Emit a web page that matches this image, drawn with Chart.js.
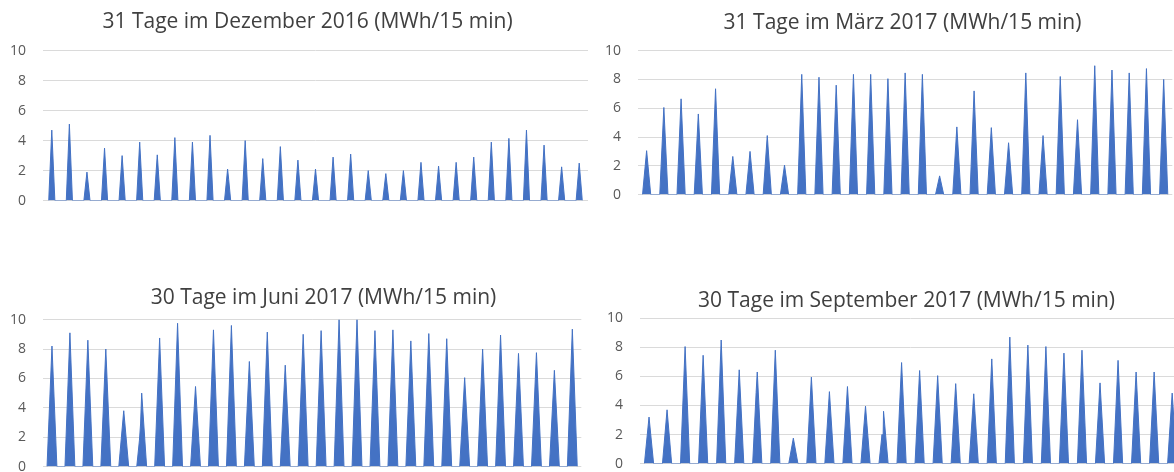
<!DOCTYPE html>
<html>
<head>
<meta charset="utf-8">
<script src="https://cdn.jsdelivr.net/npm/chart.js@4.4.1/dist/chart.umd.min.js"></script>
<style>
  html, body { margin: 0; padding: 0; background: #ffffff; overflow: hidden; width: 1174px; height: 472px; }
  canvas { position: absolute; }
</style>
</head>
<body>
<canvas id="c0"></canvas>
<canvas id="c1"></canvas>
<canvas id="c2"></canvas>
<canvas id="c3"></canvas>
<script>
// ---- Data (peak value of each day, MWh per 15 min) ----
const titles = [
  "31 Tage im Dezember 2016 (MWh/15 min)",
  "31 Tage im März 2017 (MWh/15 min)",
  "30 Tage im Juni 2017 (MWh/15 min)",
  "30 Tage im September 2017 (MWh/15 min)"
];
const peaksDec2016 = [4.7, 5.1, 1.9, 3.5, 3.0, 3.9, 3.05, 4.2, 3.9, 4.35, 2.1, 4.0, 2.8, 3.6, 2.7, 2.1,
                      2.9, 3.1, 2.0, 1.8, 2.0, 2.55, 2.3, 2.55, 2.9, 3.9, 4.15, 4.7, 3.7, 2.25, 2.5];
const peaksMar2017 = [3.05, 6.05, 6.65, 5.6, 7.35, 2.65, 3.0, 4.1, 2.05, 8.35, 8.15, 7.6, 8.35, 8.35, 8.05, 8.45,
                      8.35, 1.3, 4.7, 7.2, 4.65, 3.6, 8.45, 4.1, 8.2, 5.2, 8.95, 8.65, 8.45, 8.75, 8.0];
const peaksJun2017 = [8.2, 9.1, 8.6, 8.0, 3.8, 5.0, 8.75, 9.75, 5.45, 9.3, 9.6, 7.15, 9.15, 6.9, 9.0,
                      9.25, 10.0, 10.0, 9.25, 9.3, 8.55, 9.05, 8.7, 6.05, 8.0, 8.95, 7.7, 7.75, 6.55, 9.35];
const peaksSep2017 = [3.2, 3.7, 8.05, 7.45, 8.5, 6.45, 6.3, 7.8, 1.75, 5.95, 4.95, 5.3, 3.95, 3.6, 6.95,
                      6.4, 6.05, 5.5, 4.8, 7.2, 8.7, 8.15, 8.05, 7.6, 7.8, 5.55, 7.1, 6.3, 6.3, 4.85];
// irregular days: [day index, hour of day, value]
const extraDec2016 = [[10, 13.5, 1.4]];
const extraMar2017 = [];
const extraJun2017 = [[5, 9.0, 1.8], [5, 10.5, 2.9]];
const extraSep2017 = [[6, 10.5, 4.9], [13, 10.0, 2.0], [13, 11.2, 1.0]];
// production window of a day (hour of day): start, peak, end
const dayHoursDec = [7.8, 12, 16.2];
const dayHoursMar = [6.3, 12, 17.7];
const dayHoursJun = [5.4, 12, 18.6];
const dayHoursSep = [5.9, 12, 18.1];
const yTicks = [0, 2, 4, 6, 8, 10];

// ---- Layout (page pixels) ----
const layouts = [
  { L: 43.0,  R: 587.6,  T: 51.0,  B: 200.5, CX: 307.3, CY: 22.0 },
  { L: 638.1, R: 1172.0, T: 51.0,  B: 195.0, CX: 902.4, CY: 23.0 },
  { L: 42.7,  R: 580.6,  T: 320.0, B: 466.7, CX: 323.0, CY: 298.0 },
  { L: 640.3, R: 1181.5, T: 318.3, B: 464.0, CX: 906.8, CY: 300.7 }
];
const panels = [
  { peaks: peaksDec2016, hours: dayHoursDec, extra: extraDec2016 },
  { peaks: peaksMar2017, hours: dayHoursMar, extra: extraMar2017 },
  { peaks: peaksJun2017, hours: dayHoursJun, extra: extraJun2017 },
  { peaks: peaksSep2017, hours: dayHoursSep, extra: extraSep2017 }
];

const BLUE = '#4472C4';
const TITLE_SIZE = 21, TITLE_LH = 1.2, TITLE_PAD_TOP = 4;
const AXIS_W = 40, LABEL_GAP = 17, PAD_BOTTOM = 12;

function buildSeries(peaks, hours, extra) {
  const pts = [];
  peaks.forEach((p, i) => {
    const day = [
      { x: 24 * i + hours[0], y: 0 },
      { x: 24 * i + hours[1], y: p },
      { x: 24 * i + hours[2], y: 0 }
    ];
    extra.filter(e => e[0] === i).forEach(e => day.push({ x: 24 * i + e[1], y: e[2] }));
    day.sort((a, b) => a.x - b.x);
    pts.push(...day);
  });
  return pts;
}

function makeChart(cv, panel, k, W2, titleBottomPad) {
  return new Chart(cv, {
    type: 'line',
    data: {
      datasets: [{
        data: buildSeries(panel.peaks, panel.hours, panel.extra),
        borderColor: BLUE,
        backgroundColor: BLUE,
        borderWidth: 1,
        pointRadius: 0,
        fill: 'origin',
        tension: 0
      }]
    },
    options: {
      responsive: false,
      animation: false,
      devicePixelRatio: 1,
      layout: { padding: { top: 0, left: 0, right: 0, bottom: PAD_BOTTOM } },
      plugins: {
        legend: { display: false },
        tooltip: { enabled: false },
        title: {
          display: true,
          text: titles[k],
          color: '#404040',
          font: { family: 'Open Sans', size: TITLE_SIZE, weight: 'normal', lineHeight: TITLE_LH },
          padding: { top: TITLE_PAD_TOP, bottom: titleBottomPad }
        }
      },
      scales: {
        x: {
          type: 'linear',
          min: 0,
          max: 24 * panel.peaks.length,
          display: false
        },
        y: {
          position: 'left',
          min: yTicks[0],
          max: yTicks[yTicks.length - 1],
          afterBuildTicks: (s) => { s.ticks = yTicks.map(v => ({ value: v })); },
          afterFit: (s) => { s.width = AXIS_W; },
          border: { display: false },
          grid: { color: '#dadada', lineWidth: 1, drawTicks: false },
          ticks: {
            padding: LABEL_GAP,
            color: '#595959',
            font: { family: 'Open Sans', size: 14 }
          }
        },
        y2: {
          position: 'right',
          min: 0, max: 10,
          afterFit: (s) => { s.width = W2; },
          border: { display: false },
          grid: { display: false, drawTicks: false },
          ticks: { display: false }
        }
      }
    }
  });
}

panels.forEach((panel, k) => {
  const lay = layouts[k];
  const W2 = 2 * lay.CX - lay.L - lay.R + AXIS_W;
  const X0 = lay.L - AXIS_W;
  const Y0 = lay.CY - TITLE_SIZE * TITLE_LH / 2 - TITLE_PAD_TOP;
  const titleBottomPad = lay.T - Y0 - TITLE_PAD_TOP - TITLE_SIZE * TITLE_LH;
  const width = Math.round(lay.R + W2 - X0);
  let height = Math.round(lay.B - Y0 + PAD_BOTTOM);
  const cv = document.getElementById('c' + k);
  cv.style.left = X0 + 'px'; cv.style.top = Y0 + 'px';
  const setSize = (h) => {
    cv.width = width; cv.height = h;
    cv.style.width = width + 'px'; cv.style.height = h + 'px';
  };
  setSize(height);
  let chart = makeChart(cv, panel, k, W2, titleBottomPad);
  // correct the canvas height so that the plot bottom lands where wanted
  const diff = (lay.B - Y0) - chart.chartArea.bottom;
  if (Math.abs(diff) > 0.5) {
    chart.destroy();
    height = Math.round(height + diff);
    setSize(height);
    chart = makeChart(cv, panel, k, W2, titleBottomPad);
  }
});
</script>
</body>
</html>
